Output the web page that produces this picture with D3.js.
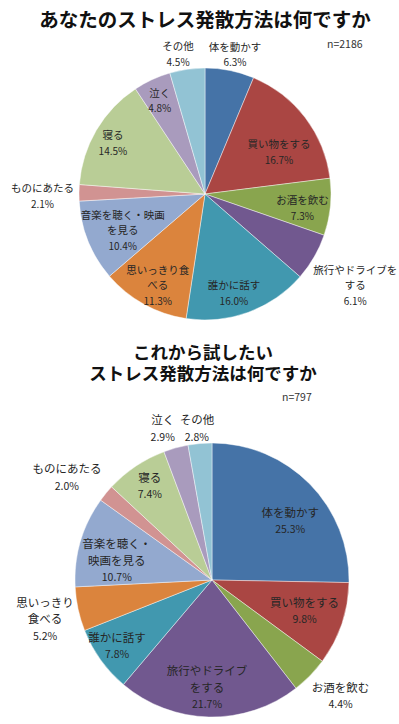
<!DOCTYPE html>
<html>
<head>
<meta charset="utf-8">
<script src="https://cdn.jsdelivr.net/npm/d3@7"></script>
<style>
body{margin:0;background:#fff}
svg{display:block;font-family:"Noto Sans CJK JP","Noto Sans",sans-serif}
</style>
</head>
<body>
<svg id="chart" width="399" height="724"></svg>
<script>
// two pies: current stress relief vs. what people want to try

const categories = ["体を動かす", "買い物をする", "お酒を飲む", "旅行やドライブをする", "誰かに話す",
	"思いっきり食べる", "音楽を聴く・映画を見る", "ものにあたる", "寝る", "泣く", "その他"];

const nowValues = [6.3, 16.7, 7.3, 6.1, 16.0, 11.3, 10.4, 2.1, 14.5, 4.8, 4.5];
const tryValues = [25.3, 9.8, 4.4, 21.7, 7.8, 5.2, 10.7, 2.0, 7.4, 2.9, 2.8];

// label text as it wraps in each chart
const nowLabels = [["体を動かす"], ["買い物をする"], ["お酒を飲む"], ["旅行やドライブを", "する"], ["誰かに話す"],
	["思いっきり食", "べる"], ["音楽を聴く・映画", "を見る"], ["ものにあたる"], ["寝る"], ["泣く"], ["その他"]];
const tryLabels = [["体を動かす"], ["買い物をする"], ["お酒を飲む"], ["旅行やドライブ", "をする"], ["誰かに話す"],
	["思いっきり", "食べる"], ["音楽を聴く・", "映画を見る"], ["ものにあたる"], ["寝る"], ["泣く"], ["その他"]];

const nowTitle = ["あなたのストレス発散方法は何ですか"];
const tryTitle = ["これから試したい", "ストレス発散方法は何ですか"];
const nowN = "n=2186";
const tryN = "n=797";

const colors = ["#4573a7", "#aa4643", "#89a54e", "#71588f", "#4198af", "#db843d",
	"#93a9cf", "#d19392", "#b9cd96", "#a99bbd", "#92c3d4"];

// label placement: [radius factor, angle offset in degrees from slice middle]
const nowPlace = [[1.14, 0.7], [0.68, 7], [0.78, 1.7], [1.39, 0.9], [0.81, 3.7], [0.81, -1.4],
	[0.71, -1.1], [1.29, -0.9], [0.84, -0.9], [0.83, -0.8], [1.14, -2.7]];
const tryPlace = [[0.72, 6.9], [0.71, -0.8], [1.26, -2.4], [0.78, 1.4], [0.84, 1.2], [1.25, -0.6],
	[0.71, -4.5], [1.30, -3.8], [0.83, 0.7], [1.17, -2.6], [1.12, -0.6]];

const svg = d3.select("#chart");

function drawPie(opt){
	let pie = d3.pie().sort(null).value(d => d);
	let arcs = pie(opt.values);
	let arc = d3.arc().innerRadius(0).outerRadius(opt.r);

	let g = svg.append("g")
		.attr("transform", "translate(" + opt.cx + "," + opt.cy + ")");

	g.selectAll("path")
		.data(arcs)
		.join("path")
		.attr("d", arc)
		.attr("fill", (d, i) => colors[i])
		.attr("stroke", "rgba(255,255,255,0.55)")
		.attr("stroke-width", 0.8);

	// title
	svg.append("text")
		.attr("x", opt.titleX)
		.attr("text-anchor", "middle")
		.attr("font-weight", "bold")
		.attr("font-size", opt.titleSize)
		.attr("fill", "#111")
		.selectAll("tspan")
		.data(opt.title)
		.join("tspan")
		.attr("x", opt.titleX)
		.attr("y", (d, i) => opt.titleY + i * opt.titleLh)
		.text(d => d);

	svg.append("text")
		.attr("x", opt.nX)
		.attr("y", opt.nY)
		.attr("font-size", 10.5)
		.attr("fill", "#333")
		.text(opt.n);

	// data labels
	let labels = g.selectAll("g.lab")
		.data(arcs)
		.join("g")
		.attr("class", "lab")
		.attr("transform", (d, i) => {
			let p = opt.place[i];
			let a = (d.startAngle + d.endAngle) / 2 + p[1] * Math.PI / 180;
			let x = p[0] * opt.r * Math.sin(a);
			let y = -p[0] * opt.r * Math.cos(a);
			return "translate(" + x + "," + y + ")";
		});

	labels.each(function(d, i){
		let lines = opt.labels[i].concat([d3.format(".1f")(d.data) + "%"]);
		let top = -(lines.length - 1) * opt.lh / 2;
		d3.select(this).append("text")
			.attr("text-anchor", "middle")
			.attr("dominant-baseline", "central")
			.attr("fill", "#262626")
			.selectAll("tspan")
			.data(lines)
			.join("tspan")
			.attr("x", 0)
			.attr("y", (t, j) => top + j * opt.lh)
			.attr("font-size", (t, j) => j == lines.length - 1 ? opt.pctSize : opt.fontSize)
			.text(t => t);
	});
}

drawPie({
	values: nowValues, labels: nowLabels, place: nowPlace,
	cx: 205, cy: 194, r: 126,
	title: nowTitle, titleX: 205, titleY: 27, titleSize: 19.5, titleLh: 0,
	n: nowN, nX: 327, nY: 48,
	fontSize: 10.5, pctSize: 10, lh: 15.5
});

drawPie({
	values: tryValues, labels: tryLabels, place: tryPlace,
	cx: 212, cy: 580, r: 137,
	title: tryTitle, titleX: 203, titleY: 359, titleSize: 17.5, titleLh: 20.5,
	n: tryN, nX: 282, nY: 401,
	fontSize: 11.5, pctSize: 10.5, lh: 16.5
});
</script>
</body>
</html>
